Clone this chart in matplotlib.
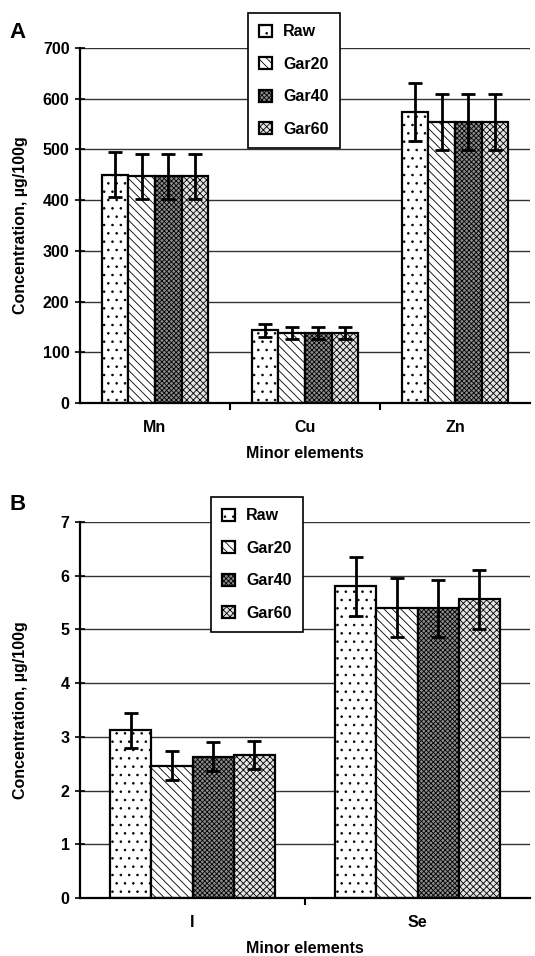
import matplotlib
matplotlib.use("Agg")
import matplotlib.pyplot as plt
from matplotlib.patches import Patch
import numpy as np

plt.rcParams['font.family'] = ['Liberation Sans', 'DejaVu Sans']
plt.rcParams['font.weight'] = 'bold'
plt.rcParams['hatch.linewidth'] = 0.6

# ---- data ----
series = ["Raw", "Gar20", "Gar40", "Gar60"]

cats_a = ["Mn", "Cu", "Zn"]
vals_a = {
    "Raw":   [450, 143, 573],
    "Gar20": [447, 138, 554],
    "Gar40": [447, 138, 554],
    "Gar60": [447, 138, 554],
}
errs_a = {
    "Raw":   [44, 13, 57],
    "Gar20": [44, 12, 55],
    "Gar40": [44, 12, 55],
    "Gar60": [44, 12, 55],
}
yticks_a = [0, 100, 200, 300, 400, 500, 600, 700]

cats_b = ["I", "Se"]
vals_b = {
    "Raw":   [3.12, 5.80],
    "Gar20": [2.46, 5.40],
    "Gar40": [2.63, 5.39],
    "Gar60": [2.66, 5.56],
}
errs_b = {
    "Raw":   [0.33, 0.55],
    "Gar20": [0.27, 0.55],
    "Gar40": [0.27, 0.53],
    "Gar60": [0.26, 0.55],
}
yticks_b = [0, 1, 2, 3, 4, 5, 6, 7]

ylabel = "Concentration, \u00b5g/100g"
xlabel = "Minor elements"

# ---- styles ----
hatches = {"Raw": "..", "Gar20": "\\\\\\\\", "Gar40": "xxxxxxx", "Gar60": "xxxxx"}
faces = {"Raw": "white", "Gar20": "white", "Gar40": "#8c8c8c", "Gar60": "#e4e4e4"}
FS = 11.5

fig = plt.figure(figsize=(5.35, 9.56), dpi=100)
W, H = 535.0, 956.0


def panel(rect, cats, vals, errs, yticks, bw, letter, letter_xy, leg_xy):
    ax = fig.add_axes(rect)
    x = np.arange(len(cats))
    for i, s in enumerate(series):
        off = (i - 1.5) * bw
        ax.bar(x + off, vals[s], bw, color=faces[s], hatch=hatches[s],
               edgecolor="black", linewidth=1.6, zorder=2)
        ax.errorbar(x + off, vals[s], yerr=errs[s], fmt="none", ecolor="black",
                    elinewidth=2, capsize=4.8, capthick=2, zorder=3)
    ax.set_xlim(-0.5, len(cats) - 0.5)
    ax.set_ylim(yticks[0], yticks[-1])
    ax.set_yticks(yticks)
    ax.set_yticklabels([str(t) for t in yticks], fontsize=FS, fontweight='bold')
    ax.set_xticks(x)
    ax.set_xticklabels(cats, fontsize=FS, fontweight='bold')
    ax.set_xticks(np.arange(len(cats) - 1) + 0.5, minor=True)
    ax.tick_params(axis='x', which='major', length=0, pad=12)
    ax.tick_params(axis='x', which='minor', length=5, width=1.5, direction='out')
    ax.tick_params(axis='y', which='major', length=7, width=1.2, direction='inout', pad=4)
    ax.yaxis.grid(True, color="#333333", linewidth=1.0, zorder=0)
    ax.set_axisbelow(True)
    for sp in ["top", "right"]:
        ax.spines[sp].set_visible(False)
    for sp in ["left", "bottom"]:
        ax.spines[sp].set_linewidth(1.6)
    ax.set_ylabel(ylabel, fontsize=FS, fontweight='bold', va='center')
    ax.yaxis.set_label_coords(-59 / 450, 0.5)
    ax.set_xlabel(xlabel, fontsize=FS, fontweight='bold', labelpad=8)
    fig.text(letter_xy[0] / W, 1 - letter_xy[1] / H, letter, fontsize=16,
             fontweight='bold', ha='center', va='center')
    handles = [Patch(facecolor=faces[s], hatch=hatches[s], edgecolor="black",
                     linewidth=1.6, label=s) for s in series]
    leg = fig.legend(handles=handles, loc="upper left",
                     bbox_to_anchor=(leg_xy[0] / W, 1 - leg_xy[1] / H),
                     prop={'weight': 'bold', 'size': FS},
                     handlelength=0.8, handleheight=0.8, handletextpad=0.7,
                     labelspacing=1.1, borderpad=0.7, borderaxespad=0,
                     fancybox=False, framealpha=1, edgecolor="black")
    leg.get_frame().set_linewidth(1.2)
    return ax


panel([80 / W, 1 - 403 / H, 450 / W, (403 - 48) / H], cats_a, vals_a, errs_a,
      yticks_a, 0.177, "A", (18, 33), (248, 13))
panel([80 / W, 1 - 898 / H, 450 / W, (898 - 522) / H], cats_b, vals_b, errs_b,
      yticks_b, 0.183, "B", (18, 504), (211, 497))

fig.savefig("out.png", dpi=100)
